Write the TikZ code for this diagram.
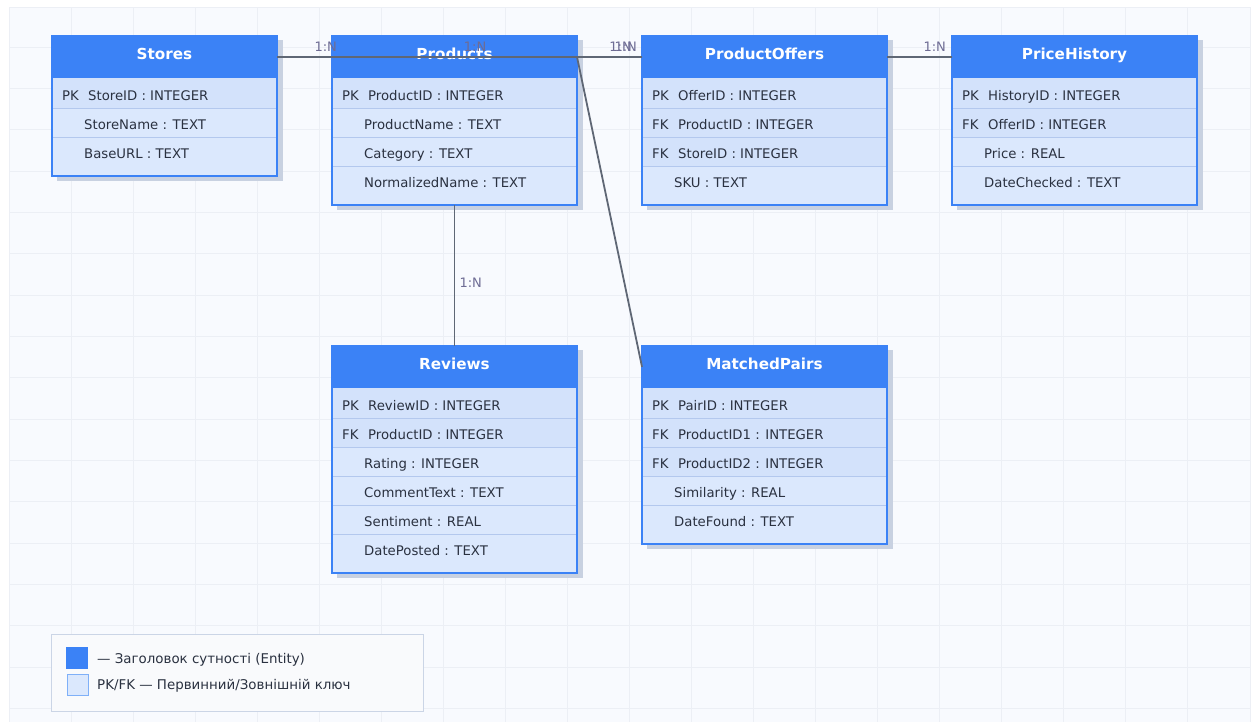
\documentclass[tikz,border=0pt]{standalone}
\usepackage{fontspec}
\setmainfont{DejaVu Sans}
\usetikzlibrary{calc}

\definecolor{hdrblue}{HTML}{3B82F6}
\definecolor{rowplain}{HTML}{DBE8FD}
\definecolor{rowkey}{HTML}{D3E2FB}
\definecolor{rowsep}{HTML}{B3C8EE}
\definecolor{boxshadow}{HTML}{C8D1E1}
\definecolor{txtdark}{HTML}{2A3140}
\definecolor{linkgray}{HTML}{5F6775}
\definecolor{cardlabel}{HTML}{6E6C94}
\definecolor{panelbg}{HTML}{F8FAFE}
\definecolor{gridline}{HTML}{ECEFF5}
\definecolor{legendbg}{HTML}{F9FAFC}
\definecolor{legendedge}{HTML}{CBD5E6}
\definecolor{swatchedge}{HTML}{7FB0F8}

% \erentity{id}{left}{top}{width}{rows}{title}{key/field list}
\newcommand\erentity[7]{%
  \pgfmathsetmacro\eH{52.7+29*#5}%
  \pgfmathtruncatemacro\nsep{#5-1}%
  % drop shadow
  \fill[boxshadow] (#2+5,#3+4) rectangle (#2+#4+5.5,#3+\eH+5.5);
  % body
  \node[entbody, minimum width=#4pt, minimum height=\eH pt, anchor=north west] (#1) at (#2,#3) {};
  % key rows
  \foreach \k/\nm [count=\i from 0] in {#7}{%
    \ifx\k\empty\else
      \fill[rowkey] (#2,#3+41.7+29*\i) rectangle (#2+#4,#3+72.3+29*\i);
    \fi
  }
  % row separators
  \foreach \s in {1,...,\nsep}{%
    \draw[rowsepline] (#2,#3+72.3+29*\s-29) -- (#2+#4,#3+72.3+29*\s-29);
  }
  % field texts
  \foreach \k/\nm [count=\i from 0] in {#7}{%
    \ifx\k\empty
      \node[rowtext, anchor=base west] (#1-r\i) at (#2+32,#3+64.7+29*\i) {\nm};
    \else
      \node[rowtext, anchor=base west] (#1-k\i) at (#2+10,#3+64.7+29*\i) {\k};
      \node[rowtext, anchor=base west] (#1-r\i) at (#2+36,#3+64.7+29*\i) {\nm};
    \fi
  }
  % header
  \node[enthead, minimum width=#4pt, minimum height=41.7pt, anchor=north west] (#1-h) at (#2,#3) {};
  \node[titletext, anchor=base] (#1-t) at (#2+#4/2,#3+24) {#6};
  % outline
  \draw[entedge] (#1.north west) rectangle (#1.south east);
}

\begin{document}
\begin{tikzpicture}[x=1pt,y=-1pt,
  entbody/.style={fill=rowplain, inner sep=0, outer sep=0},
  enthead/.style={fill=hdrblue, inner sep=0, outer sep=0},
  entedge/.style={draw=hdrblue, line width=2pt},
  rowsepline/.style={draw=rowsep, line width=0.8pt},
  rowtext/.style={font=\fontsize{13.25}{15}\selectfont, text=txtdark, inner sep=0},
  titletext/.style={font=\fontsize{15.2}{18}\selectfont\bfseries, text=white, inner sep=0},
  link/.style={draw=linkgray, line width=1.8pt},
  card/.style={font=\fontsize{13}{15}\selectfont, text=cardlabel, inner sep=0, anchor=south west},
  gridrule/.style={draw=gridline, line width=1pt},
  legtext/.style={font=\fontsize{13.4}{15}\selectfont, text=txtdark, inner sep=0, anchor=base west},
]
\useasboundingbox (0,0) rectangle (1254,722);
\fill[white] (0,0) rectangle (1254,722);

% grid panel
\fill[panelbg] (9.5,8) rectangle (1250,722);
\foreach \gx in {1,...,19}{\draw[gridrule] (9.5+62*\gx,8) -- (9.5+62*\gx,722);}
\foreach \gy in {1,...,17}{\draw[gridrule] (9.5,6+41.333*\gy) -- (1250,6+41.333*\gy);}
\draw[gridrule] (9.5,722) -- (9.5,8) -- (1250,8) -- (1250,722);

% entities
\erentity{stores}{52}{36}{225}{3}{Stores}{PK/StoreID : INTEGER, /StoreName : TEXT, /BaseURL : TEXT}
\erentity{products}{332}{36}{245}{4}{Products}{PK/ProductID : INTEGER, /ProductName : TEXT, /Category : TEXT, /NormalizedName : TEXT}
\erentity{offers}{642}{36}{245}{4}{ProductOffers}{PK/OfferID : INTEGER, FK/ProductID : INTEGER, FK/StoreID : INTEGER, /SKU : TEXT}
\erentity{history}{952}{36}{245}{4}{PriceHistory}{PK/HistoryID : INTEGER, FK/OfferID : INTEGER, /Price : REAL, /DateChecked : TEXT}
\erentity{reviews}{332}{346}{245}{6}{Reviews}{PK/ReviewID : INTEGER, FK/ProductID : INTEGER, /Rating : INTEGER, /CommentText : TEXT, /Sentiment : REAL, /DatePosted : TEXT}
\erentity{matched}{642}{346}{245}{5}{MatchedPairs}{PK/PairID : INTEGER, FK/ProductID1 : INTEGER, FK/ProductID2 : INTEGER, /Similarity : REAL, /DateFound : TEXT}

% relationships
\draw[link] (stores-h.east) -- (offers-h.west)
  node[card, at start, xshift=36.6pt, yshift=4pt] (c1) {1:N}
  node[card, midway, xshift=3.5pt, yshift=4pt] (c2) {1:N};
\draw[link] (products-h.east) -- (offers-h.west)
  node[card, midway, xshift=-1pt, yshift=4pt] (c3) {1:N};
\draw[link] (products-h.east) -- (matched-h.west)
  node[card, at start, xshift=36.6pt, yshift=4pt] (c4) {1:N};
\draw[link] (offers-h.east) -- (history-h.west)
  node[card, midway, xshift=3.1pt, yshift=4pt] (c5) {1:N};
\draw[link] (products.south) -- (reviews.north)
  node[card, midway, xshift=4.1pt, yshift=-13.5pt] (c6) {1:N};

% legend
\node[fill=legendbg, draw=legendedge, line width=1pt, inner sep=0, outer sep=0,
      minimum width=371.5pt, minimum height=77pt, anchor=north west] (legend) at (51.5,634.5) {};
\node[fill=hdrblue, inner sep=0, minimum size=22pt, anchor=north west] (sw1) at (66,647) {};
\node[fill=rowplain, draw=swatchedge, line width=1pt, inner sep=0, minimum size=21pt, anchor=north west] (sw2) at (66.5,673.5) {};
\node[legtext] (lt1) at (97,663) {— Заголовок сутності (Entity)};
\node[legtext] (lt2) at (97,689) {PK/FK — Первинний/Зовнішній ключ};
\end{tikzpicture}
\end{document}
